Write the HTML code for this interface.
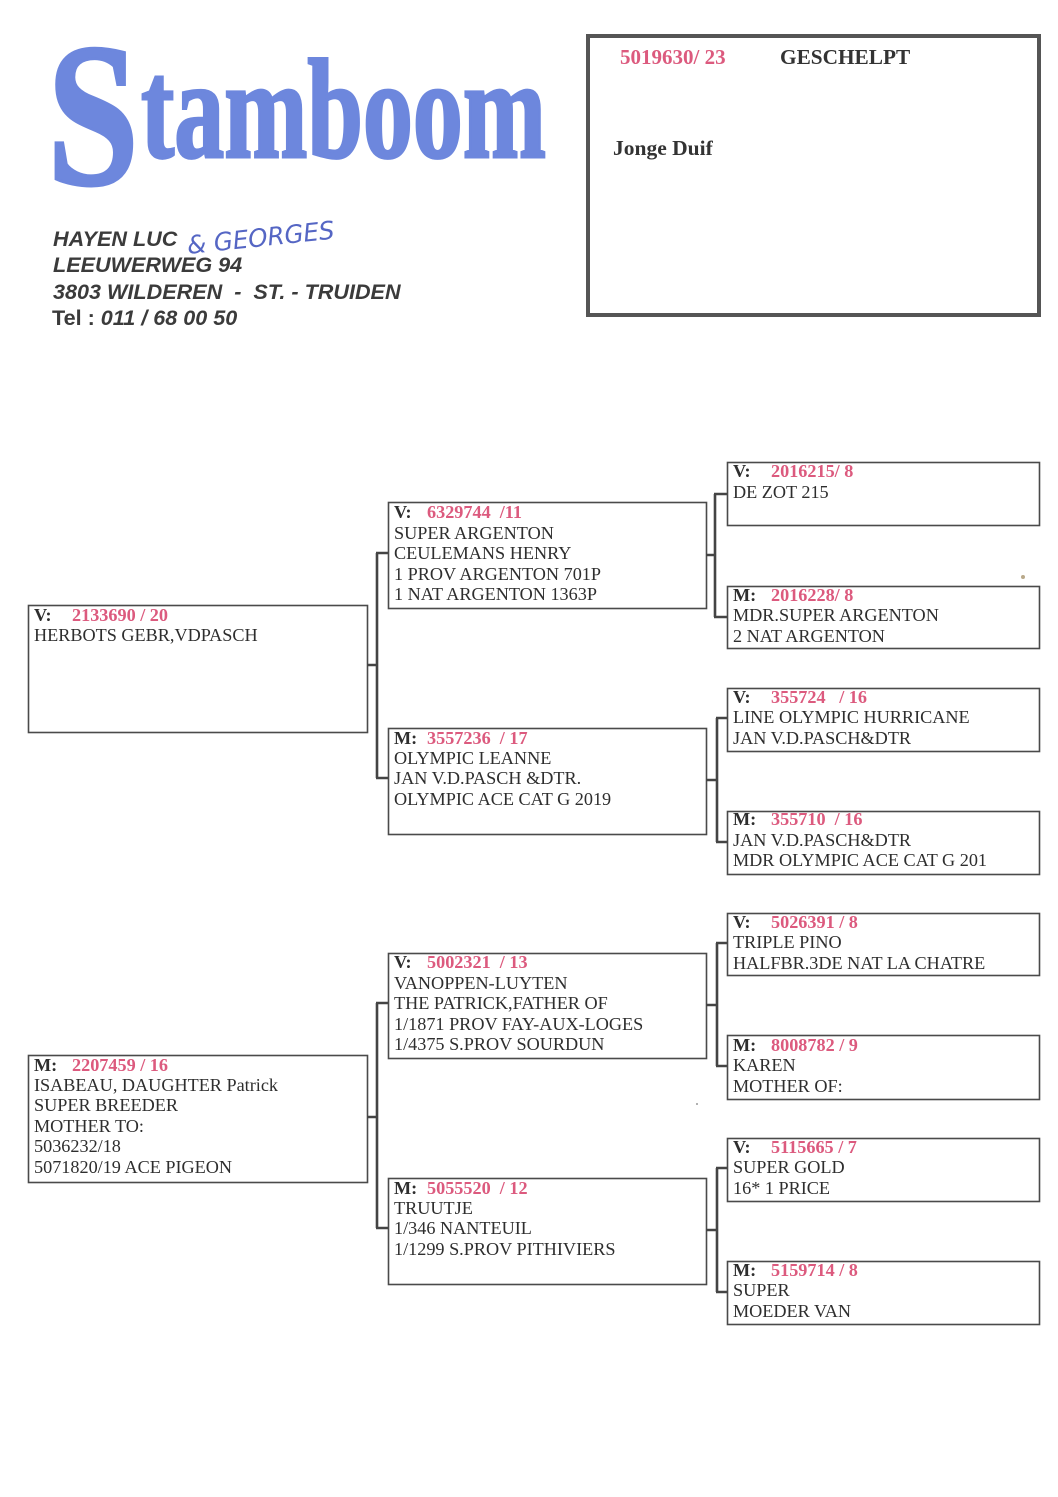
<!DOCTYPE html>
<html>
<head>
<meta charset="utf-8">
<style>
  html,body{margin:0;padding:0;background:#fff;}
  body{width:1058px;height:1497px;overflow:hidden;}
  svg{display:block;}
  .t{font-family:"Liberation Serif",serif;font-size:18.2px;fill:#2e2e2e;white-space:pre;}
  .b{font-weight:bold;}
  .p{fill:#dc5a7e;font-weight:bold;}
  .box{fill:none;stroke:#4a4a4a;stroke-width:1.6;}
  .ln{fill:none;stroke:#444;stroke-width:2.6;}
  .addr{font-family:"Liberation Sans",sans-serif;font-size:21.6px;font-weight:bold;font-style:italic;fill:#3b3b3b;white-space:pre;}
</style>
</head>
<body>
<svg width="1058" height="1497" viewBox="0 0 1058 1497" xmlns="http://www.w3.org/2000/svg">
  <rect x="0" y="0" width="1058" height="1497" fill="#fff"/>

  <!-- Logo -->
  <text x="47" y="184" font-family="Liberation Serif, serif" font-weight="bold" font-size="205" fill="#6d87dd" stroke="#6d87dd" stroke-width="3" textLength="92" lengthAdjust="spacingAndGlyphs">S</text>
  <text x="141" y="157" font-family="Liberation Serif, serif" font-weight="bold" font-size="142" fill="#6d87dd" stroke="#6d87dd" stroke-width="3" textLength="405" lengthAdjust="spacingAndGlyphs">tamboom</text>

  <!-- Address -->
  <text class="addr" x="53" y="246">HAYEN LUC</text>
  <text class="addr" x="53" y="272">LEEUWERWEG 94</text>
  <text class="addr" x="53" y="299">3803 WILDEREN  -  ST. - TRUIDEN</text>
  <text class="addr" x="52" y="325"><tspan font-style="normal">Tel : </tspan>011 / 68 00 50</text>
  <text x="188" y="254" transform="rotate(-6 188 254)" font-family="DejaVu Sans, sans-serif" font-style="italic" font-size="25" fill="#5566c4" textLength="148" lengthAdjust="spacingAndGlyphs">&amp; GEORGES</text>

  <!-- Header box -->
  <rect x="588" y="36" width="451" height="279" fill="none" stroke="#555" stroke-width="4"/>
  <text x="620" y="64" font-family="Liberation Serif, serif" font-weight="bold" font-size="21" fill="#dc5a7e" style="white-space:pre">5019630/ 23</text>
  <text x="780" y="64" font-family="Liberation Serif, serif" font-weight="bold" font-size="21.3" fill="#333">GESCHELPT</text>
  <text x="613" y="155" font-family="Liberation Serif, serif" font-weight="bold" font-size="21.5" fill="#333">Jonge Duif</text>

  <!-- Generation 1 boxes -->
  <rect class="box" x="28.5" y="605.5" width="339" height="127"/>
  <text class="t b" x="34" y="621">V:</text>
  <text class="t p" x="72" y="621">2133690 / 20</text>
  <text class="t" x="34" y="641">HERBOTS GEBR,VDPASCH</text>

  <rect class="box" x="28.5" y="1055.5" width="339" height="127"/>
  <text class="t b" x="34" y="1071">M:</text>
  <text class="t p" x="72" y="1071">2207459 / 16</text>
  <text class="t" x="34" y="1091">ISABEAU, DAUGHTER Patrick</text>
  <text class="t" x="34" y="1111">SUPER BREEDER</text>
  <text class="t" x="34" y="1132">MOTHER TO:</text>
  <text class="t" x="34" y="1152">5036232/18</text>
  <text class="t" x="34" y="1173">5071820/19 ACE PIGEON</text>

  <!-- Gen1 -> Gen2 connectors -->
  <path class="ln" d="M367 665 H377 M377 553 V778 M376 553 H389 M376 778 H389"/>
  <path class="ln" d="M367 1117 H377 M377 1003 V1228 M376 1003 H389 M376 1228 H389"/>

  <!-- Generation 2 boxes -->
  <rect class="box" x="388.5" y="502.5" width="318" height="106"/>
  <text class="t b" x="394" y="518">V:</text>
  <text class="t p" x="427" y="518">6329744  /11</text>
  <text class="t" x="394" y="539">SUPER ARGENTON</text>
  <text class="t" x="394" y="559">CEULEMANS HENRY</text>
  <text class="t" x="394" y="580">1 PROV ARGENTON 701P</text>
  <text class="t" x="394" y="600">1 NAT ARGENTON 1363P</text>

  <rect class="box" x="388.5" y="728.5" width="318" height="106"/>
  <text class="t b" x="394" y="744">M:</text>
  <text class="t p" x="427" y="744">3557236  / 17</text>
  <text class="t" x="394" y="764">OLYMPIC LEANNE</text>
  <text class="t" x="394" y="784">JAN V.D.PASCH &amp;DTR.</text>
  <text class="t" x="394" y="805">OLYMPIC ACE CAT G 2019</text>

  <rect class="box" x="388.5" y="953.5" width="318" height="105"/>
  <text class="t b" x="394" y="968">V:</text>
  <text class="t p" x="427" y="968">5002321  / 13</text>
  <text class="t" x="394" y="989">VANOPPEN-LUYTEN</text>
  <text class="t" x="394" y="1009">THE PATRICK,FATHER OF</text>
  <text class="t" x="394" y="1030">1/1871 PROV FAY-AUX-LOGES</text>
  <text class="t" x="394" y="1050">1/4375 S.PROV SOURDUN</text>

  <rect class="box" x="388.5" y="1178.5" width="318" height="106"/>
  <text class="t b" x="394" y="1194">M:</text>
  <text class="t p" x="427" y="1194">5055520  / 12</text>
  <text class="t" x="394" y="1214">TRUUTJE</text>
  <text class="t" x="394" y="1234">1/346 NANTEUIL</text>
  <text class="t" x="394" y="1255">1/1299 S.PROV PITHIVIERS</text>

  <!-- Gen2 -> Gen3 connectors -->
  <path class="ln" d="M706 555 H715 M715 494 V617 M714 494 H728 M714 617 H728"/>
  <path class="ln" d="M706 780 H717 M717 718 V842 M716 718 H728 M716 842 H728"/>
  <path class="ln" d="M706 1005 H717 M717 943 V1066 M716 943 H728 M716 1066 H728"/>
  <path class="ln" d="M706 1230 H717 M717 1168 V1292 M716 1168 H728 M716 1292 H728"/>

  <!-- Generation 3 boxes -->
  <rect class="box" x="727.5" y="462.5" width="312" height="63"/>
  <text class="t b" x="733" y="477">V:</text>
  <text class="t p" x="771" y="477">2016215/ 8</text>
  <text class="t" x="733" y="498">DE ZOT 215</text>

  <rect class="box" x="727.5" y="586.5" width="312" height="62"/>
  <text class="t b" x="733" y="601">M:</text>
  <text class="t p" x="771" y="601">2016228/ 8</text>
  <text class="t" x="733" y="621">MDR.SUPER ARGENTON</text>
  <text class="t" x="733" y="642">2 NAT ARGENTON</text>

  <rect class="box" x="727.5" y="688.5" width="312" height="63"/>
  <text class="t b" x="733" y="703">V:</text>
  <text class="t p" x="771" y="703">355724   / 16</text>
  <text class="t" x="733" y="723">LINE OLYMPIC HURRICANE</text>
  <text class="t" x="733" y="744">JAN V.D.PASCH&amp;DTR</text>

  <rect class="box" x="727.5" y="811.5" width="312" height="63"/>
  <text class="t b" x="733" y="825">M:</text>
  <text class="t p" x="771" y="825">355710  / 16</text>
  <text class="t" x="733" y="846">JAN V.D.PASCH&amp;DTR</text>
  <text class="t" x="733" y="866">MDR OLYMPIC ACE CAT G 201</text>

  <rect class="box" x="727.5" y="913.5" width="312" height="62"/>
  <text class="t b" x="733" y="928">V:</text>
  <text class="t p" x="771" y="928">5026391 / 8</text>
  <text class="t" x="733" y="948">TRIPLE PINO</text>
  <text class="t" x="733" y="969">HALFBR.3DE NAT LA CHATRE</text>

  <rect class="box" x="727.5" y="1035.5" width="312" height="64"/>
  <text class="t b" x="733" y="1051">M:</text>
  <text class="t p" x="771" y="1051">8008782 / 9</text>
  <text class="t" x="733" y="1071">KAREN</text>
  <text class="t" x="733" y="1092">MOTHER OF:</text>

  <rect class="box" x="727.5" y="1138.5" width="312" height="63"/>
  <text class="t b" x="733" y="1153">V:</text>
  <text class="t p" x="771" y="1153">5115665 / 7</text>
  <text class="t" x="733" y="1173">SUPER GOLD</text>
  <text class="t" x="733" y="1194">16* 1 PRICE</text>

  <rect class="box" x="727.5" y="1261.5" width="312" height="63"/>
  <text class="t b" x="733" y="1276">M:</text>
  <text class="t p" x="771" y="1276">5159714 / 8</text>
  <text class="t" x="733" y="1296">SUPER</text>
  <text class="t" x="733" y="1317">MOEDER VAN</text>

  <!-- specks -->
  <circle cx="1023" cy="577" r="2" fill="#b9a98a"/>
  <circle cx="697" cy="1104" r="1" fill="#999"/>
</svg>
</body>
</html>
